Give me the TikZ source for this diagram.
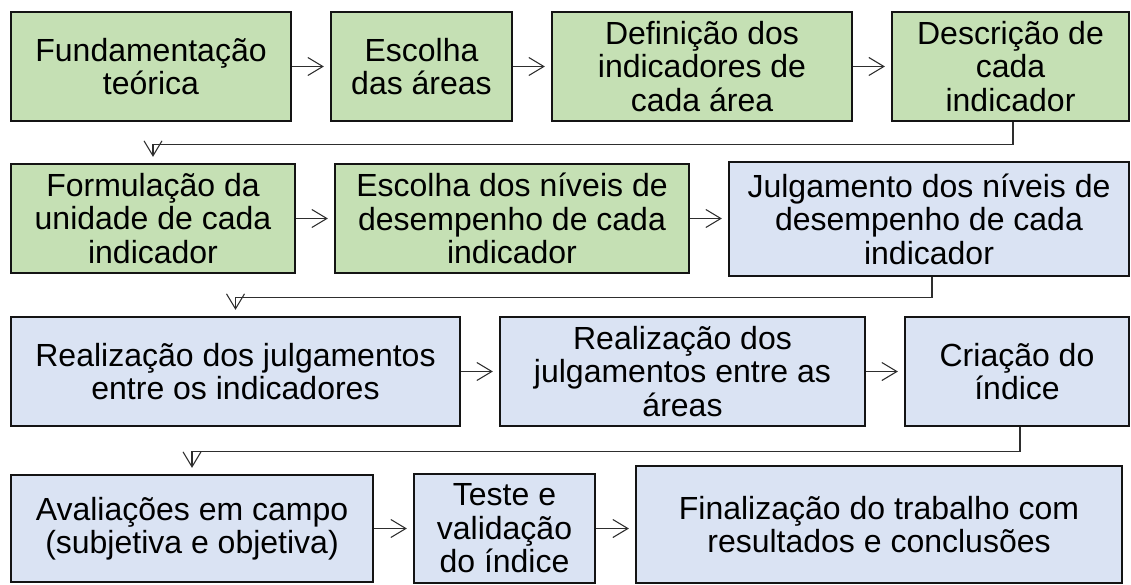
\documentclass[tikz,border=0pt]{standalone}
\usepackage{fontspec}
\setmainfont{Liberation Sans}
\usetikzlibrary{arrows.meta}
\definecolor{boxgreen}{HTML}{C5E0B4}
\definecolor{boxblue}{HTML}{DAE3F3}
\definecolor{edgecol}{HTML}{141414}
\definecolor{conncol}{HTML}{2E2E2E}
\tikzset{
  x=1pt, y=-1pt,
  stepbase/.style={draw=edgecol, line width=2.2pt, rectangle, inner sep=0pt, align=center,
    font=\fontsize{32}{33.5}\selectfont, text=black},
  gbox/.style={stepbase, fill=boxgreen},
  bbox/.style={stepbase, fill=boxblue},
  conn/.style={draw=conncol, line width=1.1pt, shorten >=6pt,
    -{Straight Barb[length=15pt, width=18pt]}},
}
\begin{document}
\begin{tikzpicture}
\useasboundingbox (0,0) rectangle (1131,585);
% row 1
\node[gbox, minimum width=280pt, minimum height=109pt] (A) at (151,66.5) {Fundamentação\\teórica};
\node[gbox, minimum width=181pt, minimum height=109pt] (B) at (421.5,66.5) {Escolha\\das áreas};
\node[gbox, minimum width=300pt, minimum height=109pt] (C) at (702,66.5) {Definição dos\\indicadores de\\cada área};
\node[gbox, minimum width=237pt, minimum height=109pt] (D) at (1010.5,66.5) {Descrição de\\cada\\indicador};
% row 2
\node[gbox, minimum width=284pt, minimum height=109pt] (E) at (153,218.5) {Formulação da\\unidade de cada\\indicador};
\node[gbox, minimum width=354pt, minimum height=109pt] (F) at (512,218.5) {Escolha dos níveis de\\desempenho de cada\\indicador};
\node[bbox, minimum width=400pt, minimum height=114pt] (G) at (929,219) {Julgamento dos níveis de\\desempenho de cada\\indicador};
% row 3
\node[bbox, minimum width=449pt, minimum height=109pt] (H) at (235.5,371.5) {Realização dos julgamentos\\entre os indicadores};
\node[bbox, minimum width=365pt, minimum height=109pt] (I) at (682.5,371.5) {Realização dos\\julgamentos entre as\\áreas};
\node[bbox, minimum width=224pt, minimum height=109pt] (J) at (1017,371.5) {Criação do\\índice};
% row 4
\node[bbox, minimum width=362pt, minimum height=107pt] (K) at (192,528.5) {Avaliações em campo\\(subjetiva e objetiva)};
\node[bbox, minimum width=181pt, minimum height=109pt] (L) at (504.5,528.5) {Teste e\\validação\\do índice};
\node[bbox, minimum width=486pt, minimum height=117pt] (M) at (879,524.5) {Finalização do trabalho com\\resultados e conclusões};
% connectors
\draw[conn] (A) -- (B);
\draw[conn] (B) -- (C);
\draw[conn] (C) -- (D);
\draw[conn] ([xshift=2.5pt]D.south) -- ++(0,22) -| (E.north);
\draw[conn] (E) -- (F);
\draw[conn] (F.east) -- (G.west |- F.east);
\draw[conn] ([xshift=3pt]G.south) -- ++(0,20) -| (H.north);
\draw[conn] (H) -- (I);
\draw[conn] (I) -- (J);
\draw[conn] ([xshift=3pt]J.south) -- ++(0,24) -| (K.north);
\draw[conn] (K) -- (L);
\draw[conn] (L.east) -- (M.west |- L.east);
\end{tikzpicture}
\end{document}
